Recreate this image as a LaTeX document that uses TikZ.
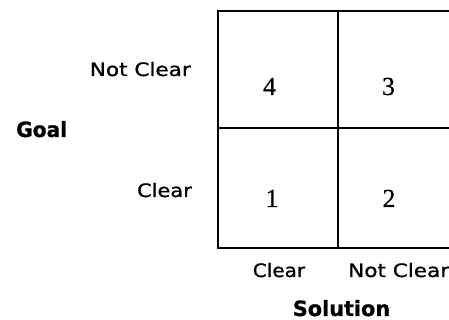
\documentclass[tikz,border=0pt]{standalone}
\usepackage{fontspec}
\setmainfont{Liberation Serif}[FakeBold=0.6]
\newfontfamily\labelfont{DejaVu Sans}[FakeBold=0.9]
\newfontfamily\titlefont{DejaVu Sans}[BoldFeatures={FakeBold=0.8}]
\usepackage{graphicx}
% stretch a label horizontally, keeping its height
\newcommand{\widelabel}[2]{\scalebox{#1}[1]{#2}}
\tikzset{
  grid line/.style={line width=1.4pt, black},
  cellnum/.style={inner sep=0pt, anchor=base, font=\fontsize{26}{28}\selectfont},
  axislabel/.style={inner sep=0pt, font=\labelfont\fontsize{18.5}{20}\selectfont},
  axistitle/.style={inner sep=0pt, font=\titlefont\bfseries\fontsize{21}{23}\selectfont},
}
\begin{document}
\begin{tikzpicture}[x=1pt,y=1pt]
  \clip (0,0) rectangle (449,320);
  % two-by-two grid (right edge runs past the page)
  \coordinate (tl) at (218,309);
  \coordinate (br) at (460,72);
  \draw[grid line] (tl) rectangle (br);
  \draw[grid line] (338,309) -- (338,72);
  \draw[grid line] (218,192) -- (460,192);
  % quadrant numbers
  \node[cellnum] (q4) at (269.5,225) {4};
  \node[cellnum] (q3) at (388.5,225) {3};
  \node[cellnum] (q1) at (272,113) {1};
  \node[cellnum] (q2) at (389,113) {2};
  % goal axis
  \node[axislabel, anchor=base east] (gnc) at (191,244) {\widelabel{1.165}{Not Clear}};
  \node[axislabel, anchor=base east] (gc) at (192,123) {\widelabel{1.13}{Clear}};
  \node[axistitle, anchor=base west] (goal) at (16,183) {\widelabel{0.96}{Goal}};
  % solution axis
  \node[axislabel, anchor=base] (sc) at (279,43) {\widelabel{1.08}{Clear}};
  \node[axislabel, anchor=base west] (snc) at (348,43) {\widelabel{1.165}{Not Clear}};
  \node[axistitle, anchor=base] (sol) at (341.5,4) {\widelabel{0.99}{Solution}};
\end{tikzpicture}
\end{document}
